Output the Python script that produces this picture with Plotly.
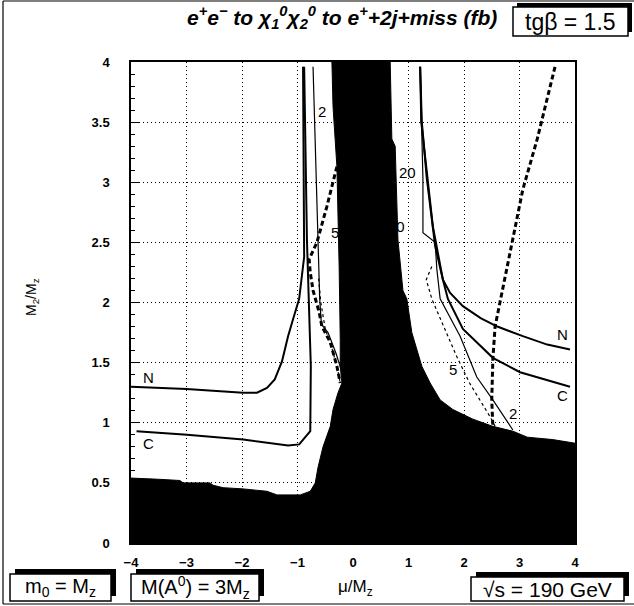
import plotly.graph_objects as go

# ---- excluded (black) region boundary ----
excl_x = [-4.0, -4.0, -3.5, -3.12, -3.06, -2.58, -2.52, -2.34, -1.98, -1.73, -1.55, -1.37, -0.95,
          -0.77, -0.68, -0.63, -0.54, -0.41, -0.36, -0.27, -0.20, -0.23, -0.23, -0.25, -0.29, -0.36,
          -0.38, 0.67, 0.70, 0.76, 0.79, 0.81, 0.90, 0.97, 1.06, 1.15, 1.24, 1.39, 1.57, 1.80, 2.16,
          2.52, 2.88, 3.14, 3.60, 4.0, 4.0]
excl_y = [0.0, 0.54, 0.53, 0.52, 0.50, 0.50, 0.48, 0.46, 0.45, 0.44, 0.43, 0.40, 0.40,
          0.43, 0.50, 0.63, 0.80, 0.97, 1.11, 1.25, 1.33, 1.47, 1.69, 2.30, 3.13, 3.63,
          4.0, 4.0, 3.36, 3.30, 2.80, 2.52, 2.10, 2.03, 1.75, 1.61, 1.47, 1.33, 1.19, 1.11, 1.03,
          0.97, 0.93, 0.88, 0.86, 0.83, 0.0]

# ---- neutralino (N) and chargino (C) limits ----
n_left_x = [-4.0, -3.0, -1.98, -1.73, -1.55, -1.41, -1.28, -1.17, -1.08, -0.97, -0.88, -0.89, -0.90]
n_left_y = [1.30, 1.28, 1.25, 1.25, 1.29, 1.36, 1.51, 1.72, 1.86, 2.03, 2.38, 3.08, 3.96]
c_left_x = [-3.90, -2.99, -1.98, -1.17, -0.97, -0.77, -0.76, -0.78, -0.79, -0.83, -0.88]
c_left_y = [0.93, 0.90, 0.86, 0.81, 0.82, 0.93, 1.47, 1.80, 2.03, 2.52, 3.96]
n_right_x = [1.21, 1.23, 1.44, 1.53, 1.62, 1.75, 1.98, 2.30, 2.60, 3.06, 3.50, 3.91]
n_right_y = [3.96, 3.50, 2.63, 2.41, 2.19, 2.08, 1.97, 1.87, 1.80, 1.72, 1.65, 1.61]
c_right_x = [1.21, 1.24, 1.33, 1.48, 1.62, 1.71, 1.98, 2.52, 3.01, 3.91]
c_right_y = [3.96, 3.50, 3.03, 2.47, 2.19, 2.03, 1.78, 1.54, 1.42, 1.30]

# ---- cross-section contours (fb) ----
s2_left_x = [-0.72, -0.67, -0.63, -0.60, -0.57, -0.45, -0.30, -0.22]
s2_left_y = [3.96, 3.08, 2.52, 2.03, 1.82, 1.75, 1.57, 1.45]
s5_left_x = [-0.62, -0.58, -0.50, -0.38, -0.28, -0.23]
s5_left_y = [2.20, 2.00, 1.78, 1.62, 1.45, 1.33]
s2_right_x = [1.21, 1.26, 1.26, 1.48, 1.51, 1.57, 1.93, 2.23, 2.52, 2.88]
s2_right_y = [3.96, 3.03, 2.58, 2.50, 2.28, 2.03, 1.72, 1.38, 1.19, 0.94]
s5_right_x = [1.42, 1.32, 1.42, 1.69, 1.87, 2.10, 2.47, 2.56]
s5_right_y = [2.30, 2.19, 2.03, 1.75, 1.55, 1.33, 1.05, 0.97]

# ---- kinematic limit (thick dashed) ----
kin_left_x = [-0.29, -0.47, -0.65, -0.79, -0.77, -0.72, -0.61, -0.56, -0.41, -0.29, -0.23]
kin_left_y = [3.13, 2.80, 2.50, 2.36, 2.25, 2.10, 1.92, 1.80, 1.67, 1.47, 1.33]
kin_right_x = [3.64, 3.32, 3.06, 2.95, 2.77, 2.56, 2.52, 2.50, 2.52]
kin_right_y = [3.96, 3.36, 2.94, 2.69, 2.25, 1.80, 1.53, 1.19, 0.97]

# ---- curve labels ----
label_text = ["N", "C", "N", "C", "2", "5", "2", "5", "20", "10"]
label_x = [-3.69, -3.69, 3.78, 3.78, -0.55, -0.33, 2.88, 1.80, 0.99, 0.78]
label_y = [1.38, 0.83, 1.73, 1.23, 3.59, 2.58, 1.08, 1.44, 3.08, 2.63]

x_ticks = [-4, -3, -2, -1, 0, 1, 2, 3, 4]
y_ticks = [0, 0.5, 1, 1.5, 2, 2.5, 3, 3.5, 4]

FONT = "Liberation Sans, Arial, Helvetica, sans-serif"

# plot area in page pixels: x 131..575, y 62..543
def px(wx):
    return (wx - 131) / 444

def py(wy):
    return (543 - wy) / 481

fig = go.Figure()
fig.add_trace(go.Scatter(x=excl_x, y=excl_y, fill="toself", fillcolor="black",
                         line=dict(color="black", width=1), mode="lines", hoverinfo="skip"))

def line(x, y, width, dash="solid"):
    fig.add_trace(go.Scatter(x=x, y=y, mode="lines",
                             line=dict(color="black", width=width, dash=dash), hoverinfo="skip"))

line(n_left_x, n_left_y, 2)
line(c_left_x, c_left_y, 2)
line(n_right_x, n_right_y, 2)
line(c_right_x, c_right_y, 2)
line(s2_left_x, s2_left_y, 1.2)
line(s2_right_x, s2_right_y, 1.2)
line(s5_left_x, s5_left_y, 1.2, "dot")
line(s5_right_x, s5_right_y, 1.2, "dot")
line(kin_left_x, kin_left_y, 3, "5px,3px")
line(kin_right_x, kin_right_y, 3, "5px,3px")

for t, x, y in zip(label_text, label_x, label_y):
    fig.add_annotation(x=x, y=y, text=t, showarrow=False, xanchor="center", yanchor="middle",
                       font=dict(family=FONT, size=15, color="black"))

def boxed(text, x0, y0, x1, y1, size, sh=5):
    # drop shadow (up-right), then white framed box, then the text
    fig.add_shape(type="rect", xref="paper", yref="paper", layer="above",
                  x0=px(x0 + sh), x1=px(x1 + sh), y0=py(y1 - sh), y1=py(y0 - sh),
                  fillcolor="black", line=dict(color="black", width=0))
    fig.add_shape(type="rect", xref="paper", yref="paper", layer="above",
                  x0=px(x0), x1=px(x1), y0=py(y1), y1=py(y0),
                  fillcolor="white", line=dict(color="black", width=1.5))
    fig.add_annotation(xref="paper", yref="paper", x=px((x0 + x1) / 2), y=py((y0 + y1) / 2),
                       text=text, showarrow=False, xanchor="center", yanchor="middle",
                       font=dict(family=FONT, size=size, color="black"))

# title
fig.add_annotation(xref="paper", yref="paper", x=px(342), y=py(17), xanchor="center", yanchor="middle",
                   text="e<sup>+</sup>e<sup>−</sup> to χ<sub>1</sub><sup>0</sup>χ<sub>2</sub><sup>0</sup> to e<sup>+</sup>+2j+miss (fb)",
                   showarrow=False,
                   font=dict(family=FONT, size=21, color="black", weight="bold", style="italic"))
boxed("tgβ = 1.5", 513, 7, 628, 36, 23, sh=4)
boxed("m<sub>0</sub> = M<sub>z</sub>", 10, 574, 111, 601, 20)
boxed("M(A<sup>0</sup>) = 3M<sub>z</sub>", 131, 574, 259, 601, 20)
boxed("√s = 190 GeV", 471, 577, 624, 601, 21)
fig.add_annotation(xref="paper", yref="paper", x=px(355), y=py(588), text="μ/M<sub>z</sub>",
                   xanchor="center", yanchor="middle",
                   showarrow=False, font=dict(family=FONT, size=17, color="black"))
fig.add_annotation(xref="paper", yref="paper", x=px(32), y=py(297), text="M<sub>2</sub>/M<sub>z</sub>",
                   xanchor="center", yanchor="middle",
                   textangle=-90, showarrow=False, font=dict(family=FONT, size=14, color="black"))

# outer frame lines
for x0, y0, x1, y1 in [(3, 604, 3, 1), (3, 1, 634, 1), (3, 604, 634, 604)]:
    fig.add_shape(type="line", xref="paper", yref="paper", x0=px(x0), y0=py(y0), x1=px(x1), y1=py(y1),
                  line=dict(color="black", width=1.2))

fig.update_xaxes(range=[-4, 4], tickvals=x_ticks, showgrid=True, gridcolor="black",
                 griddash="1px,3px", gridwidth=1, zeroline=False, showline=True, mirror=True,
                 linecolor="black", linewidth=1.5, ticks="inside", ticklen=5, tickcolor="black",
                 ticklabelstandoff=7,
                 tickfont=dict(family=FONT, size=13, color="black", weight="bold"))
fig.update_yaxes(range=[0, 4], tickvals=y_ticks, showgrid=True, gridcolor="black",
                 griddash="1px,3px", gridwidth=1, zeroline=False, showline=True, mirror=True,
                 linecolor="black", linewidth=1.5, ticks="inside", ticklen=8, tickcolor="black",
                 ticklabelstandoff=17,
                 minor=dict(ticks="inside", dtick=0.1, ticklen=4, tickcolor="black", showgrid=False),
                 tickfont=dict(family=FONT, size=13, color="black", weight="bold"))

fig.update_layout(width=634, height=606, showlegend=False,
                  margin=dict(l=131, r=59, t=62, b=63),
                  paper_bgcolor="white", plot_bgcolor="white")

fig.write_html("out.html", config={"displayModeBar": False},
               post_script="document.body.style.margin='0px';document.body.style.overflow='hidden';")
